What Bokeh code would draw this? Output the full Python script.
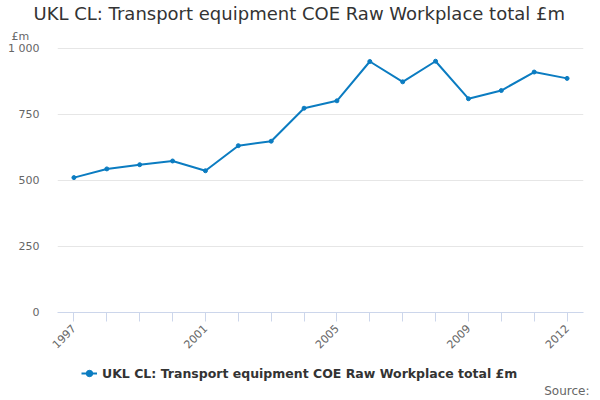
import math
from bokeh.plotting import figure
from bokeh.layouts import column
from bokeh.models import (ColumnDataSource, FixedTicker, Range1d, Legend, LegendItem,
                          Title)
from bokeh.embed import file_html
from bokeh.resources import INLINE

# data
years = list(range(1997, 2013))
values = [511, 544, 560, 574, 537, 632, 649, 774, 802, 951, 874, 952, 810, 841, 911, 887]
y_ticks = [0, 250, 500, 750, 1000]
y_tick_labels = {1000: "1 000"}
x_labelled = [1997, 2001, 2005, 2009, 2012]

series_name = "UKL CL: Transport equipment COE Raw Workplace total £m"
line_color = "#0b7cc1"
font = "DejaVu Sans"

source = ColumnDataSource(data=dict(year=years, value=values))

p = figure(width=600, height=360, output_backend="svg", toolbar_location=None,
           x_range=Range1d(1996.5, 2012.5), y_range=Range1d(0, 1004),
           min_border_left=57, min_border_right=17, min_border_top=45, min_border_bottom=48)
p.outline_line_color = None
p.background_fill_color = "white"

# centred on the whole chart, not the frame: align left with a negative offset
p.title.text = series_name
p.title.text_font = font
p.title.text_font_size = "18px"
p.title.text_font_style = "normal"
p.title.text_color = "#333333"
p.title.text_line_height = 0.8
p.title.align = "left"
p.title.offset = -24
p.title.standoff = 0

# unit label sits just above the frame, left of the y labels
unit_title = Title(text="£m", align="left", offset=-46, text_font=font,
                   text_font_size="11px", text_font_style="normal",
                   text_color="#666666", text_line_height=0.8, standoff=9)
p.add_layout(unit_title, "above")

line = p.line("year", "value", source=source, line_color=line_color, line_width=2)
dots = p.scatter("year", "value", source=source, size=4, color=line_color)

# x axis
p.xaxis.ticker = FixedTicker(ticks=years)
p.xaxis.major_label_overrides = {y: (str(y) if y in x_labelled else "") for y in years}
p.xaxis.major_label_orientation = math.pi / 4
p.xaxis.axis_line_color = "#ccd6eb"
p.xaxis.major_tick_line_color = "#ccd6eb"
p.xaxis.major_tick_out = 9
p.xaxis.major_tick_in = 0
p.xaxis.minor_tick_line_color = None
p.xaxis.major_label_text_font = font
p.xaxis.major_label_text_font_size = "11px"
p.xaxis.major_label_text_color = "#666666"
p.xgrid.grid_line_color = None

# y axis
p.yaxis.ticker = FixedTicker(ticks=y_ticks)
p.yaxis.major_label_overrides = y_tick_labels
p.yaxis.axis_line_color = None
p.yaxis.major_tick_line_color = None
p.yaxis.minor_tick_line_color = None
p.yaxis.major_label_text_font = font
p.yaxis.major_label_text_font_size = "11px"
p.yaxis.major_label_text_color = "#666666"
p.yaxis.major_label_standoff = 12
p.ygrid.grid_line_color = "#e6e6e6"
p.ygrid.ticker = FixedTicker(ticks=y_ticks[1:])

# strip below the chart holding the legend and the source note
# (the column lines its frame up with the chart frame above)
foot = figure(width=600, height=37, output_backend="svg", toolbar_location=None,
              x_range=Range1d(0, 1), y_range=Range1d(0, 1),
              x_axis_location=None, y_axis_location=None,
              min_border_left=0, min_border_right=5, min_border_top=0, min_border_bottom=0,
              title="Source:", title_location="below")
foot.outline_line_color = None
foot.grid.visible = False
foot.title.align = "right"
foot.title.offset = -6
foot.title.text_font = font
foot.title.text_font_size = "12px"
foot.title.text_font_style = "normal"
foot.title.text_color = "#666666"
foot.title.standoff = 0

# legend key glyphs (no visible data, only used for the legend swatch)
key_src = ColumnDataSource(data=dict(x=[float("nan")], y=[float("nan")]))
key_line = foot.line("x", "y", source=key_src, line_color=line_color, line_width=2)
key_dot = foot.scatter("x", "y", source=key_src, size=4, color=line_color)
legend = Legend(items=[LegendItem(label=series_name, renderers=[key_line, key_dot])],
                orientation="horizontal", location=(24, -2),
                label_text_font=font, label_text_font_size="12.5px",
                label_text_font_style="bold", label_text_color="#333333",
                border_line_color=None, background_fill_alpha=0,
                glyph_width=16, label_standoff=5, padding=2, margin=0)
foot.add_layout(legend)

open("out.html", "w").write(file_html(column(p, foot, spacing=0), INLINE))
